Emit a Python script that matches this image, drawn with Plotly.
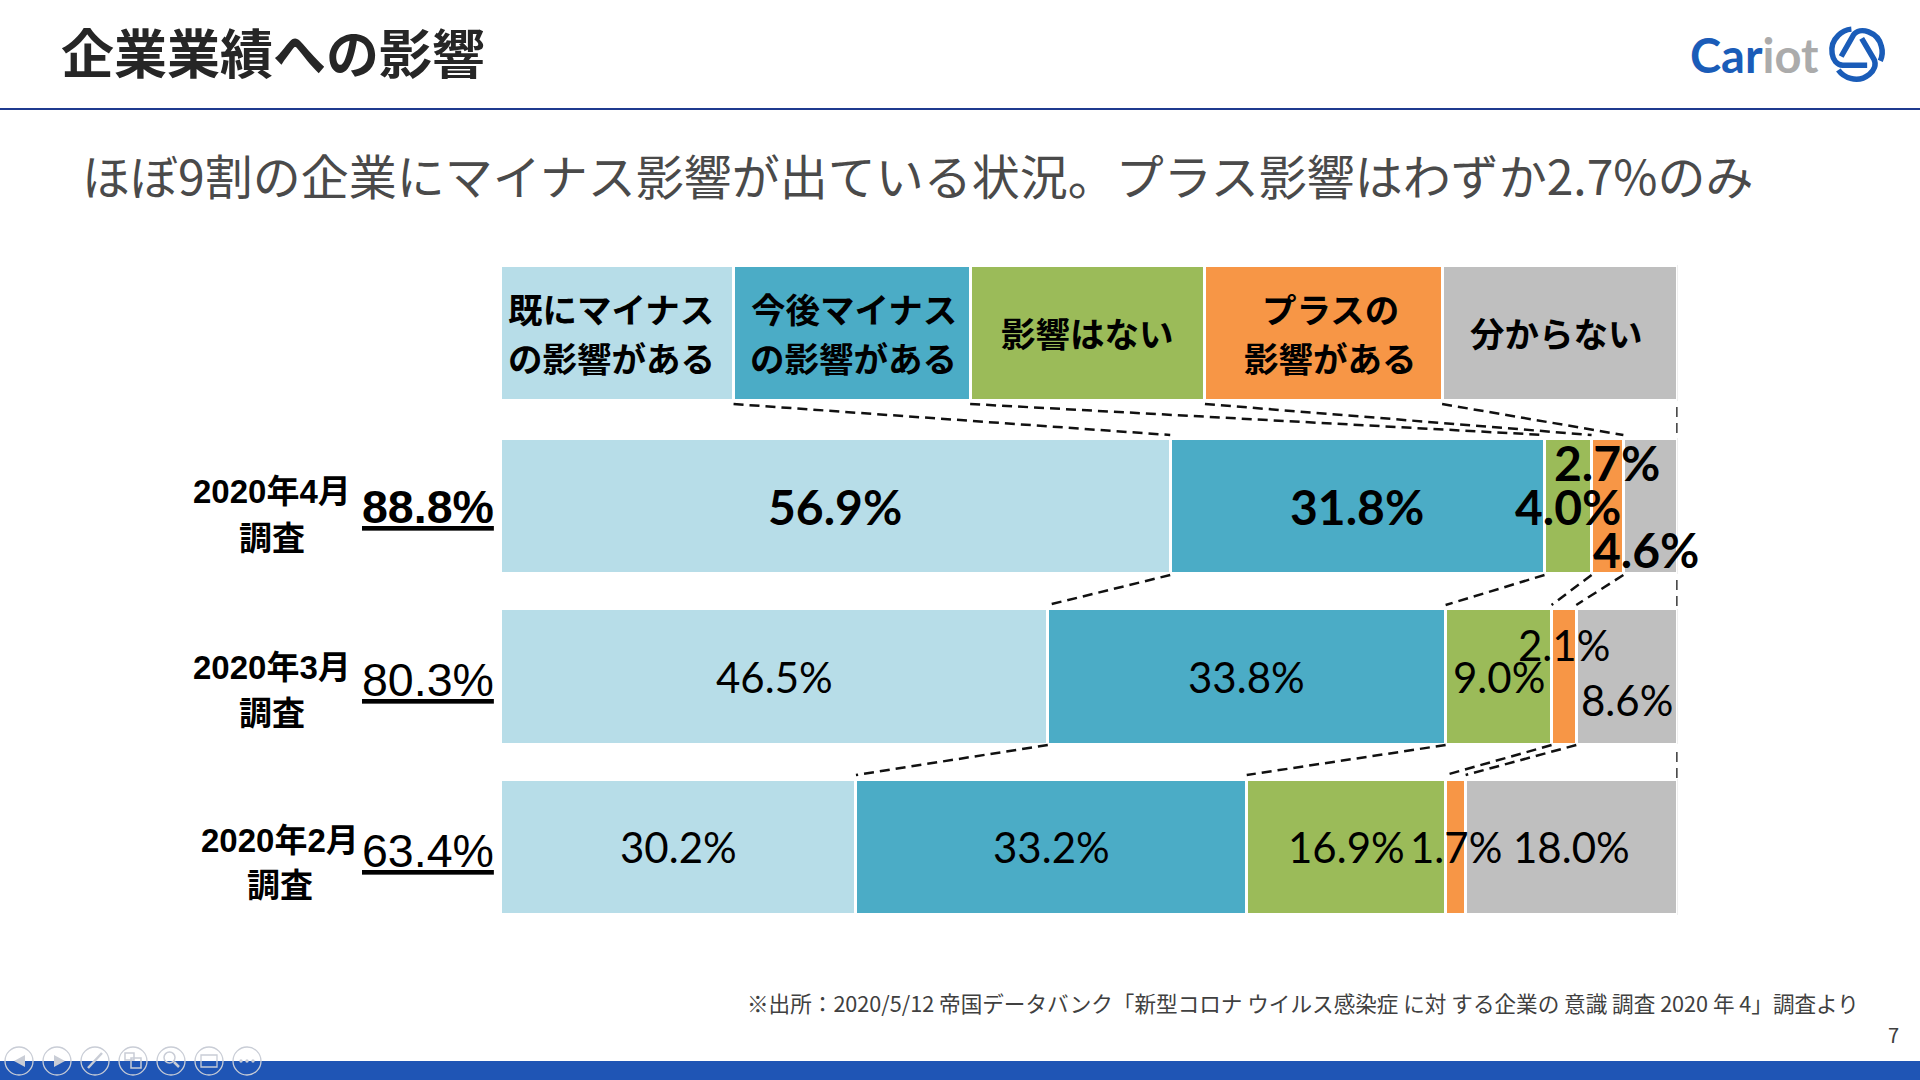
import math
import plotly.graph_objects as go

W, H = 1920, 1080

# ---- data ----
surveys = ["2020年2月", "2020年3月", "2020年4月"]
series_names = ["既にマイナスの影響がある", "今後マイナスの影響がある", "影響はない", "プラスの影響がある", "分からない"]
already_negative = [30.2, 46.5, 56.9]
future_negative = [33.2, 33.8, 31.8]
no_impact = [16.9, 9.0, 4.0]
positive = [1.7, 2.1, 2.7]
unknown = [18.0, 8.6, 4.6]
negative_totals = ["63.4%", "80.3%", "88.8%"]
header_lines = [["既にマイナス", "の影響がある"], ["今後マイナス", "の影響がある"], ["影響はない"], ["プラスの", "影響がある"], ["分からない"]]
header_share = [19.8, 20.1, 19.95, 20.15, 20.0]

title = "企業業績への影響"
subtitle = "ほぼ9割の企業にマイナス影響が出ている状況。プラス影響はわずか2.7%のみ"
footnote = "※出所：2020/5/12 帝国データバンク「新型コロナ ウイルス感染症 に対 する企業の 意識 調査 2020 年 4」調査より"
page_no = "7"

series = [already_negative, future_negative, no_impact, positive, unknown]
colors = ["#B7DDE8", "#4BACC6", "#9BBB59", "#F79646", "#BFBFBF"]
CJK = "Noto Sans CJK JP"
NUM = "Lato, Noto Sans CJK JP"
SANS = "Liberation Sans, Noto Sans CJK JP"


def px(x):
    return x / W


def py(y):
    return 1 - y / H


fig = go.Figure()
for name, vals, col in zip(series_names, series, colors):
    fig.add_trace(go.Bar(y=surveys, x=vals, name=name, orientation="h", xaxis="x", yaxis="y",
                         marker=dict(color=col, line=dict(color="white", width=3)), hoverinfo="skip"))
for name, share, col in zip(series_names, header_share, colors):
    fig.add_trace(go.Bar(y=["凡例"], x=[share], name=name, orientation="h", xaxis="x", yaxis="y2",
                         marker=dict(color=col, line=dict(color="white", width=3)), hoverinfo="skip"))

ann = []


def text_px(t, x, y, size, color="#000000", family=CJK, anchor="center", bold=False):
    ann.append(dict(text=f"<b>{t}</b>" if bold else t, x=px(x), y=py(y), xref="paper", yref="paper",
                    xanchor=anchor, yanchor="middle", showarrow=False,
                    font=dict(size=size, color=color, family=family)))


# value labels, placed from the data
label_yshift = {"2020年4月": [0, 0, 0, 44, -43], "2020年3月": [0, 0, 0, 32, -23], "2020年2月": [0, 0, 0, 0, 0]}
label_xshift = {"2020年4月": [0, 0, 0, 0, -4], "2020年3月": [0, 0, 0, 0, 0], "2020年2月": [0, 0, 0, 0, 0]}
cums = []
for i, s in enumerate(surveys):
    vals = [v[i] for v in series]
    total = sum(vals)
    c = 0
    row = []
    for j, v in enumerate(vals):
        mid = (c + v / 2) / total * 100
        c += v
        row.append(c / total * 100)
        is_latest = s == "2020年4月"
        ann.append(dict(text=f"<b>{v:.1f}%</b>" if is_latest else f"{v:.1f}%", x=mid, y=s, xref="x", yref="y",
                        xanchor="center", yanchor="middle", showarrow=False, yshift=label_yshift[s][j],
                        xshift=label_xshift[s][j],
                        font=dict(size=48 if is_latest else 42, color="#000000", family=NUM)))
    cums.append(row)

# header labels
cum = 0
header_xshift = [-6, 2, 0, 7, -3]
for j, (lines, share) in enumerate(zip(header_lines, header_share)):
    mid = cum + share / 2
    cum += share
    shifts = [25.5, -23.5] if len(lines) == 2 else [1]
    for line, sh in zip(lines, shifts):
        ann.append(dict(text=f"<b>{line}</b>", x=mid, y="凡例", xref="x", yref="y2", xanchor="center",
                        yanchor="middle", showarrow=False, yshift=sh, xshift=header_xshift[j],
                        font=dict(size=34.5, color="#000000", family=CJK)))

# left labels
left_pos = {"2020年4月": (272, 492, 539), "2020年3月": (272, 667, 713), "2020年2月": (280, 840, 885)}
total_y = {"2020年4月": 507, "2020年3月": 680, "2020年2月": 851}
for s, tot in zip(surveys, negative_totals):
    x, y1, y2 = left_pos[s]
    text_px(s, x, y1, 33, family=SANS, bold=True)
    text_px("調査", x, y2, 33, family=SANS, bold=True)
    t = f"<u>{tot}</u>"
    text_px(t, 495.5, total_y[s], 46.5, family=SANS, anchor="right", bold=s == "2020年4月")

# page texts
text_px(title, 59, 51, 53, color="#262626", anchor="left", bold=True)
text_px(subtitle, 80, 174, 48, color="#4A4A4A", anchor="left")
text_px(footnote, 745, 1002, 21.6, color="#404040", anchor="left")
text_px(page_no, 1893, 1034, 20, color="#404040")
text_px('<span style="color:#1A5CB8"><b>Car</b></span><span style="color:#ABABAB"><b>iot</b></span>',
        1688, 55, 47, family="Lato", anchor="left")

shapes = []
dash = dict(color="#111111", width=2.5, dash="10px,6px")


def connector(x0, y0, x1, y1):
    shapes.append(dict(type="line", xref="x", yref="paper", x0=x0, x1=x1, y0=py(y0), y1=py(y1), line=dash))


# connectors, from the cumulative values
hdr = []
c = 0
for s_ in header_share:
    c += s_
    hdr.append(c)
levels = [hdr, cums[2], cums[1], cums[0]]
spans = [(404, 435, 407, 437), (575, 605, 580, 607), (745, 775, 752, 780)]
for k, (y0, y1, vy0, vy1) in enumerate(spans):
    upper, lower = levels[k], levels[k + 1]
    for m in range(4):
        connector(upper[m], y0, lower[m], y1)
    connector(100, vy0, 100, vy1)

# title rule and footer band
shapes.append(dict(type="line", xref="paper", yref="paper", x0=0, x1=1, y0=py(109), y1=py(109),
                   line=dict(color="#1F3A8F", width=2)))
shapes.append(dict(type="rect", xref="paper", yref="paper", x0=0, x1=1, y0=py(1080), y1=py(1061),
                   fillcolor="#1F55B5", line=dict(width=0)))


def pt(p):
    return f"{px(p[0]):.5f},{py(p[1]):.5f}"


def add_path(d, color, width=0.0, fill=None):
    s = dict(type="path", xref="paper", yref="paper", path=d, line=dict(color=color, width=width))
    if fill:
        s["fillcolor"] = fill
    shapes.append(s)


# presentation control icons
icon_x = [19, 57, 95, 133, 171, 209, 247]
IC = "#C9CDD6"
cy = 1061
for x in icon_x:
    shapes.append(dict(type="circle", xref="paper", yref="paper", x0=px(x - 14), x1=px(x + 14),
                       y0=py(cy + 14), y1=py(cy - 14), line=dict(color=IC, width=1.3)))


def poly(points, close=True):
    return "M " + " L ".join(pt(p) for p in points) + (" Z" if close else "")


add_path(poly([(25, cy - 6), (25, cy + 6), (14, cy)]), IC, 0, IC)
add_path(poly([(54, cy - 6), (54, cy + 6), (65, cy)]), IC, 0, IC)
add_path(poly([(88, cy + 7), (102, cy - 8)], False), IC, 2.5)
add_path(poly([(125, cy - 8), (134, cy - 8), (134, cy - 1), (125, cy - 1)]), IC, 1.5)
add_path(poly([(131, cy - 3), (141, cy - 3), (141, cy + 7), (131, cy + 7)]), IC, 1.5)
shapes.append(dict(type="circle", xref="paper", yref="paper", x0=px(164), x1=px(175), y0=py(cy + 2), y1=py(cy - 9),
                   line=dict(color=IC, width=1.5)))
add_path(poly([(174, cy + 1), (179, cy + 6)], False), IC, 2.5)
add_path(poly([(201, cy - 6), (217, cy - 6), (217, cy + 6), (201, cy + 6)]), IC, 1.3)
for dx in (-6, 0, 6):
    shapes.append(dict(type="circle", xref="paper", yref="paper", x0=px(247 + dx - 1.7), x1=px(247 + dx + 1.7),
                       y0=py(cy + 1.7), y1=py(cy - 1.7), fillcolor=IC, line=dict(width=0)))

# logo mark: one stroke repeated three times around the centre
logo = "#1A5CB8"
base = [(125, 55), (162, 118), (178, 150), (132, 187), (92, 175), (76, 171), (62, 160), (55, 150)]


def logo_stroke(angle):
    a = math.radians(angle)
    pts = []
    for zx, zy in base:
        dx, dy = zx - 110, zy - 100
        rx = dx * math.cos(a) - dy * math.sin(a) + 110
        ry = dx * math.sin(a) + dy * math.cos(a) + 100
        pts.append((1820 + rx / 3, 20 + ry / 3))
    return (f"M {pt(pts[0])} L {pt(pts[1])} C {pt(pts[2])} {pt(pts[3])} {pt(pts[4])} "
            f"C {pt(pts[5])} {pt(pts[6])} {pt(pts[7])}")


for ang in (0, 120, 240):
    add_path(logo_stroke(ang), logo, 5.5)

fig.update_layout(
    width=W, height=H, margin=dict(l=0, r=0, t=0, b=0), paper_bgcolor="white", plot_bgcolor="white",
    barmode="stack", barnorm="percent", bargap=0.208, showlegend=False, hovermode=False,
    xaxis=dict(domain=[px(500.5), px(1677.5)], range=[0, 100], visible=False, fixedrange=True),
    yaxis=dict(domain=[py(932.25), py(420.75)], type="category", categoryorder="array", categoryarray=surveys,
               visible=False, fixedrange=True, range=[-0.5, 2.5]),
    yaxis2=dict(domain=[py(418.25), py(247.75)], type="category", visible=False, fixedrange=True,
                range=[-0.5, 0.5], anchor="x"),
    annotations=ann, shapes=shapes,
)

fig.write_html("out.html", config={"displayModeBar": False},
               post_script="document.body.style.margin='0';document.body.style.overflow='hidden';")
